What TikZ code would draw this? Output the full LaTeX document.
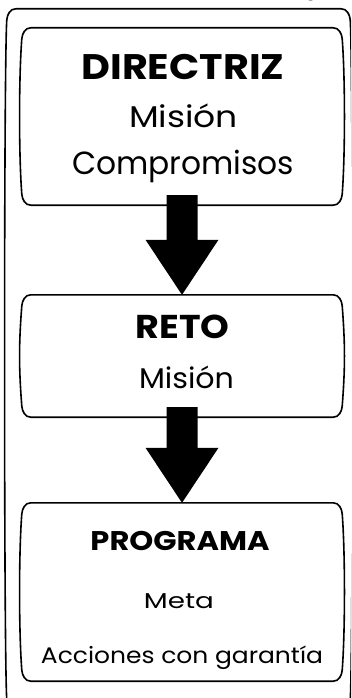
\documentclass[tikz,border=0pt]{standalone}
\usepackage{fontspec}
\usepackage{graphicx}
\setmainfont{Poppins}
\usetikzlibrary{calc}
\newcommand\plaque[2][]{%
\draw[outl,#1] ([xshift=9pt]#2.north west) -- ([xshift=-9pt]#2.north east)
 to[out=0,in=95] ([yshift=-11pt]#2.north east)
 .. controls ([xshift=3pt,yshift=-50pt]#2.north east) and ([xshift=3pt,yshift=50pt]#2.south east) .. ([yshift=11pt]#2.south east)
 to[out=-95,in=0] ([xshift=-9pt]#2.south east)
 -- ([xshift=9pt]#2.south west)
 to[out=180,in=-85] ([yshift=11pt]#2.south west)
 .. controls ([xshift=-3pt,yshift=50pt]#2.south west) and ([xshift=-3pt,yshift=-50pt]#2.north west) .. ([yshift=-11pt]#2.north west)
 to[out=85,in=180] ([xshift=9pt]#2.north west) -- cycle;}
\newcommand\blockarrow[2]{%
\fill let \p1=(#1.south), \p2=(#2.north) in
 (\x1-15.5pt,\y1+10pt) -- (\x1-15.5pt,\y2+55pt) -- (\x1-36.5pt,\y2+55pt) -- (\x1,\y2)
 -- (\x1+36.5pt,\y2+55pt) -- (\x1+15.5pt,\y2+55pt) -- (\x1+15.5pt,\y1+10pt) -- cycle;}
\newcommand\fitw[3]{{\fontsize{#1}{#1}\selectfont\resizebox{#2}{\height}{#3}}}
\begin{document}
\begin{tikzpicture}[x=1pt,y=-1pt,line join=round,
  frame/.style={draw=none,inner sep=0pt,minimum width=320pt},
  outl/.style={line width=1.6pt},
  lbl/.style={anchor=base,inner sep=0pt}]
\useasboundingbox (0,0) rectangle (351,698);
\clip (0,0) rectangle (351,698);
\node[lbl,font=\fontsize{20}{24}\selectfont] (cut) at (311,-4) {g};
\node[frame,minimum width=343pt,minimum height=702pt] (outer) at (178.5,360) {};
\node[frame,minimum height=177pt] (dir) at (182,116.5) {};
\node[frame,minimum height=122pt] (reto) at (182,356) {};
\node[frame,minimum height=178pt] (prog) at (182,592) {};
\plaque{outer}
\plaque{dir}
\plaque{reto}
\plaque{prog}
\node[lbl] (t1) at (183,80) {\fitw{35.5}{203pt}{\bfseries DIRECTRIZ}};
\node[lbl] (t2) at (183.5,128) {\fitw{30}{109pt}{Misión}};
\node[lbl] (t3) at (183,175) {\fitw{32}{222pt}{Compromisos}};
\node[lbl] (t4) at (182.5,338) {\fitw{33}{94pt}{\bfseries RETO}};
\node[lbl] (t5) at (186.5,388) {\fitw{28.5}{95pt}{Misión}};
\node[lbl] (t6) at (180,550) {\fitw{27}{179pt}{\bfseries PROGRAMA}};
\node[lbl] (t7) at (179,608) {\fitw{21.5}{70pt}{Meta}};
\node[lbl] (t8) at (182,663) {\fitw{22.5}{282pt}{Acciones con garantía}};
\blockarrow{dir}{reto}
\blockarrow{reto}{prog}
\end{tikzpicture}
\end{document}
